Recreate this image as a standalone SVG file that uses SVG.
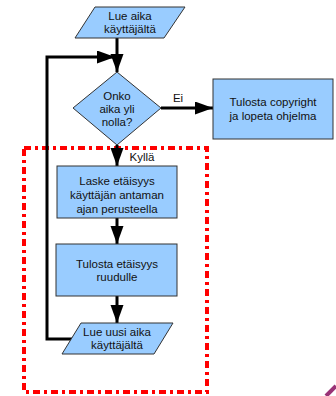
<svg xmlns="http://www.w3.org/2000/svg" width="336" height="396" viewBox="0 0 336 396">
<style>
.n{fill:#99ccff;stroke:#333333;stroke-width:1}
.t{font-family:"Liberation Sans",Arial,sans-serif;font-size:11.5px;fill:#111111;text-anchor:middle}
.c{fill:none;stroke:#000;stroke-width:3}
</style>
<defs>
<marker id="ah" markerUnits="userSpaceOnUse" markerWidth="20" markerHeight="14" refX="18" refY="6.5" orient="auto">
<path d="M0,0 L18,6.5 L0,13 Z" fill="#000"/>
</marker>
</defs>
<rect x="0" y="0" width="336" height="396" fill="#fff"/>
<rect x="24" y="148" width="183" height="244" fill="none" stroke="#ff0000" stroke-width="4" stroke-dasharray="7 4 3 4"/>
<path d="M326,396 L336,386" stroke="#993377" stroke-width="4" fill="none"/>
<g id="connectors">
<path class="c" d="M117,38 V72" marker-end="url(#ah)"/>
<path class="c" d="M73,339 H47 V57 H115" marker-end="url(#ah)"/>
<path class="c" d="M161,108 H213" marker-end="url(#ah)"/>
<path class="c" d="M117,145 V166" marker-end="url(#ah)"/>
<path class="c" d="M117,218 V244" marker-end="url(#ah)"/>
<path class="c" d="M117,296 V323" marker-end="url(#ah)"/>
<text class="t" x="178" y="102">Ei</text>
<text class="t" x="142" y="161">Kyllä</text>
</g>
<g id="start">
<path class="n" d="M95,7 H185 L164,38 H75 Z"/>
<text class="t" x="130" y="20">Lue aika</text>
<text class="t" x="130" y="33">käyttäjältä</text>
</g>
<g id="decision">
<path class="n" d="M117,72 L161,108 L117,145 L73,108 Z"/>
<text class="t" x="117" y="100">Onko</text>
<text class="t" x="117" y="113">aika yli</text>
<text class="t" x="117" y="126">nolla?</text>
</g>
<g id="end">
<rect class="n" x="213" y="79" width="120" height="60"/>
<text class="t" x="273" y="106">Tulosta copyright</text>
<text class="t" x="273" y="120">ja lopeta ohjelma</text>
</g>
<g id="calc">
<rect class="n" x="57" y="166" width="120" height="52"/>
<text class="t" x="117" y="185">Laske etäisyys</text>
<text class="t" x="117" y="199">käyttäjän antaman</text>
<text class="t" x="117" y="213">ajan perusteella</text>
</g>
<g id="print">
<rect class="n" x="56" y="244" width="121" height="52"/>
<text class="t" x="117" y="268">Tulosta etäisyys</text>
<text class="t" x="117" y="281">ruudulle</text>
</g>
<g id="read">
<path class="n" d="M81,323 H173 L154,354 H62 Z"/>
<text class="t" x="117" y="336">Lue uusi aika</text>
<text class="t" x="117" y="349">käyttäjältä</text>
</g>
</svg>
